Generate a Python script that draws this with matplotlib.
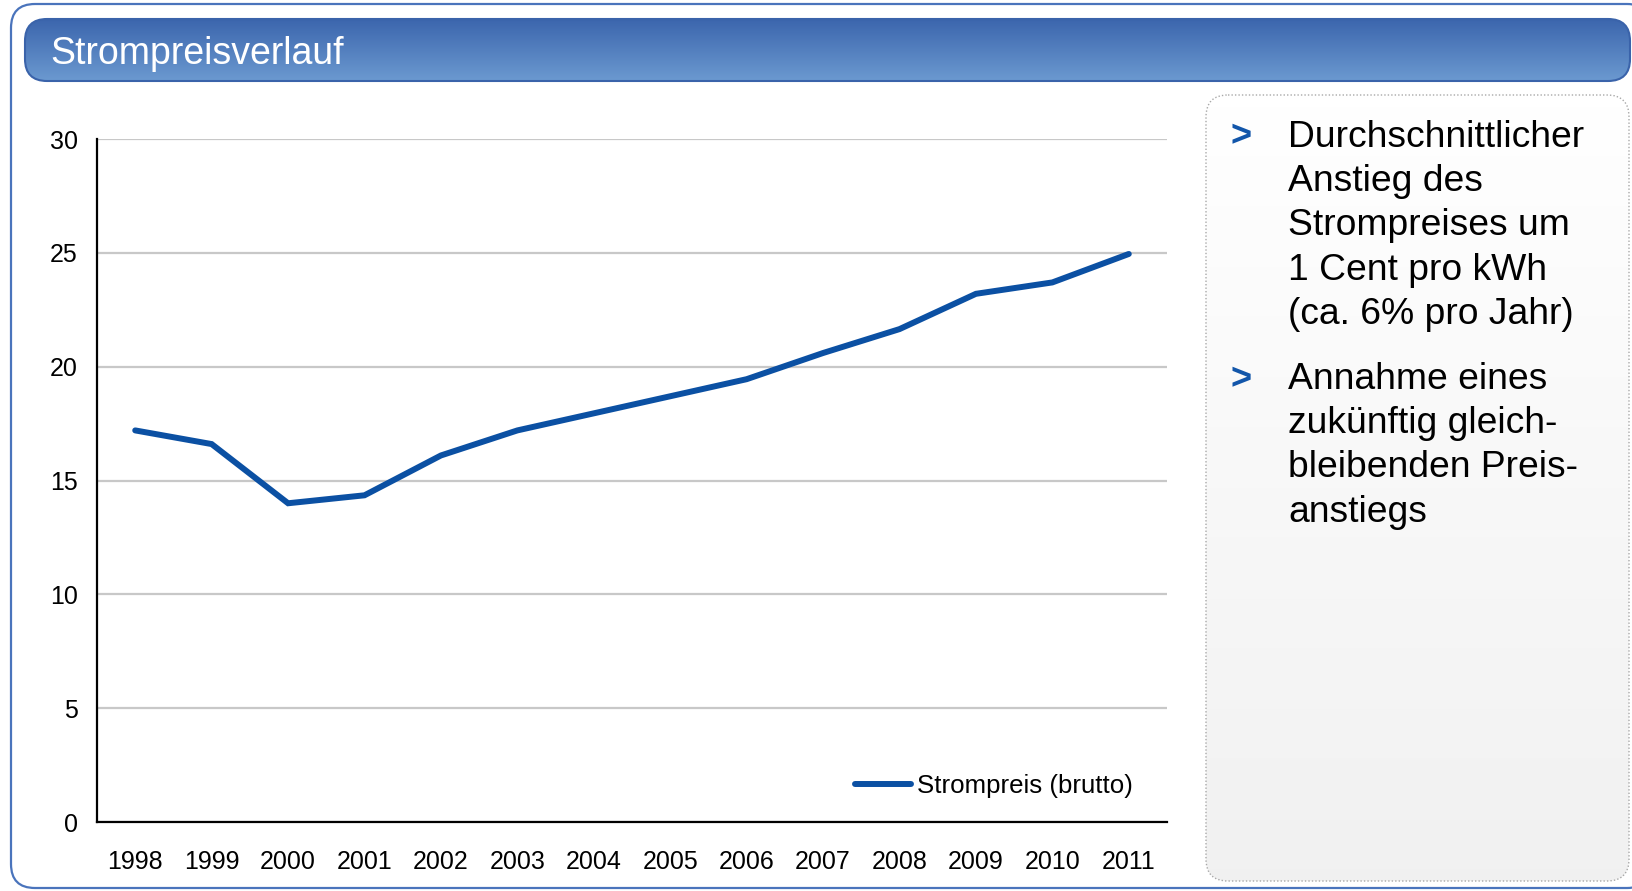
import numpy as np
import matplotlib
matplotlib.use("Agg")
import matplotlib.pyplot as plt
from matplotlib.patches import FancyBboxPatch

plt.rcParams['font.family'] = ['Liberation Sans', 'DejaVu Sans']

# ---------------- data
years  = ["1998", "1999", "2000", "2001", "2002", "2003", "2004",
          "2005", "2006", "2007", "2008", "2009", "2010", "2011"]
preis  = [17.2, 16.6, 14.0, 14.35, 16.1, 17.2, 17.95,
          18.7, 19.45, 20.6, 21.65, 23.2, 23.7, 24.95]
y_ticks = [0, 5, 10, 15, 20, 25, 30]

title       = "Strompreisverlauf"
legend_text = "Strompreis (brutto)"
bullet_1    = "Durchschnittlicher\nAnstieg des\nStrompreises um\n1 Cent pro kWh\n(ca. 6% pro Jahr)"
bullet_2    = "Annahme eines\nzukünftig gleich-\nbleibenden Preis-\nanstiegs"

W, H = 1632, 891
fig = plt.figure(figsize=(W / 100, H / 100), dpi=100)

# ---------------- background layer in pixel coords
bg = fig.add_axes([0, 0, 1, 1], zorder=0)
bg.set_xlim(0, W)
bg.set_ylim(H, 0)
bg.axis('off')

frame = FancyBboxPatch((11, 4), 1640, 884, boxstyle="round,pad=0,rounding_size=24",
                       facecolor="white", edgecolor="#4A74BC", linewidth=1.6)
bg.add_patch(frame)

# header bar with vertical gradient
hx, hy, hw, hh = 25, 19, 1605, 62
head = FancyBboxPatch((hx, hy), hw, hh, boxstyle="round,pad=0,rounding_size=22",
                      facecolor="none", edgecolor="#3A63AA", linewidth=1.5, zorder=3)
bg.add_patch(head)
top_c = np.array([0.235, 0.400, 0.680])
bot_c = np.array([0.420, 0.600, 0.815])
t = np.linspace(0, 1, 64)[:, None]
grad = (top_c[None, :] * (1 - t) + bot_c[None, :] * t)[:, None, :]
im = bg.imshow(grad, extent=(hx, hx + hw, hy + hh, hy), aspect='auto', zorder=2)
im.set_clip_path(head)
bg.text(50, 54, title, color="white", fontsize=27, va="center", ha="left", zorder=4)

# right text panel, dotted border, light gradient
px, py, pw, ph = 1206, 95, 423, 786
panel = FancyBboxPatch((px, py), pw, ph, boxstyle="round,pad=0,rounding_size=22",
                       facecolor="none", edgecolor="#A8A8A8", linewidth=1.0,
                       linestyle=(0, (1, 1.5)), zorder=3)
bg.add_patch(panel)
g2 = np.linspace(1.0, 0.945, 64)[:, None]
grad2 = np.repeat(g2[:, :, None], 3, axis=2)
im2 = bg.imshow(grad2, extent=(px, px + pw, py + ph, py), aspect='auto', zorder=2)
im2.set_clip_path(panel)

bullet_col = "#1256AA"
bg.text(1230, 137, ">", color=bullet_col, fontsize=26, fontweight="bold",
        va="center", ha="left", zorder=4)
bg.text(1288, 120, bullet_1, color="black", fontsize=26.8, va="top", ha="left",
        linespacing=1.34, zorder=4)
bg.text(1230, 380, ">", color=bullet_col, fontsize=26, fontweight="bold",
        va="center", ha="left", zorder=4)
bg.text(1288, 362, bullet_2, color="black", fontsize=26.8, va="top", ha="left",
        linespacing=1.34, zorder=4)

# ---------------- chart
ax = fig.add_axes([97 / W, 1 - 822 / H, (1167 - 97) / W, (822 - 139) / H], zorder=1)
ax.set_facecolor("none")
x = np.arange(len(years))
ax.plot(x, preis, color="#0B50A3", linewidth=4.3, solid_capstyle="round",
        solid_joinstyle="miter", label=legend_text, zorder=3)

ax.set_xlim(-0.5, len(years) - 0.5)
ax.set_ylim(0, 30)
ax.set_yticks(y_ticks)
ax.set_xticks(x)
ax.set_xticklabels(years)
ax.tick_params(axis='y', length=0, pad=14, labelsize=18)
ax.tick_params(axis='x', length=0, pad=20, labelsize=18)
ax.grid(axis='y', color="#C8C8C8", linewidth=1.6)
ax.set_axisbelow(True)
for side in ["top", "right"]:
    ax.spines[side].set_visible(False)
for side in ["left", "bottom"]:
    ax.spines[side].set_color("black")
    ax.spines[side].set_linewidth(1.6)
    ax.spines[side].set_zorder(4)

ax.legend(loc="center left", bbox_to_anchor=(0.708, 0.053), frameon=False,
          fontsize=18.6, handlelength=2.2, handletextpad=0.2, borderpad=0,
          borderaxespad=0)

fig.savefig("out.png", dpi=100)
